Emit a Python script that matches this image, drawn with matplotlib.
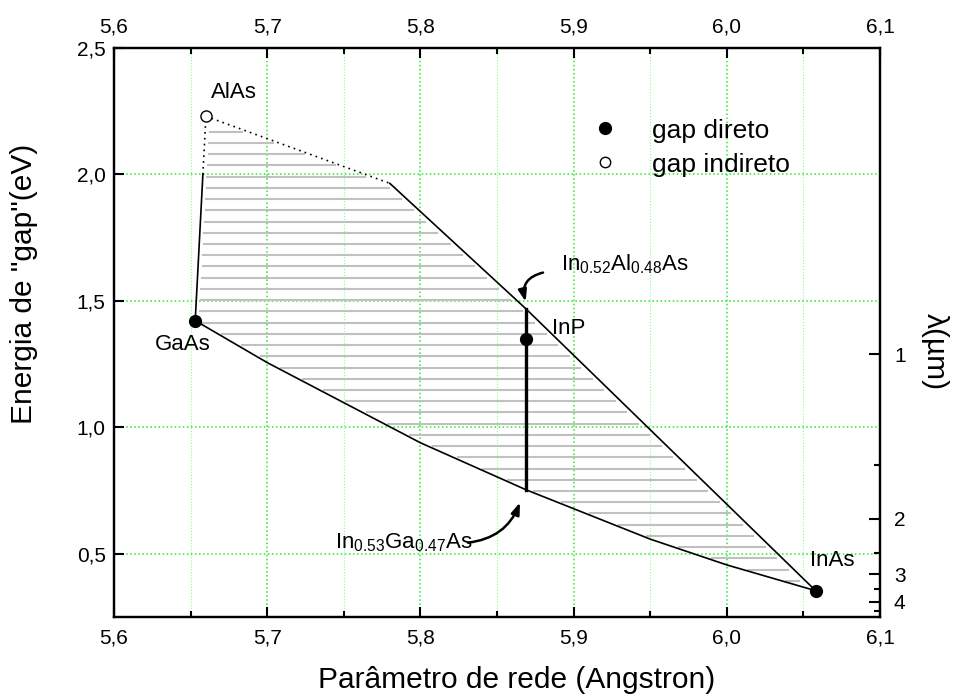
import numpy as np
import matplotlib
matplotlib.use('Agg')
import matplotlib.pyplot as plt
from matplotlib.lines import Line2D
from matplotlib.ticker import MultipleLocator, FuncFormatter, FixedLocator

plt.rcParams['font.family'] = ['Liberation Sans', 'DejaVu Sans']
plt.rcParams['mathtext.fontset'] = 'custom'
plt.rcParams['mathtext.rm'] = 'Liberation Sans'
plt.rcParams['mathtext.default'] = 'regular'

# binary compounds: lattice parameter (Angstron), gap (eV)
direct_names = ['GaAs', 'InP', 'InAs']
direct_a = [5.653, 5.869, 6.058]
direct_e = [1.422, 1.350, 0.354]
indirect_names = ['AlAs']
indirect_a = [5.660]
indirect_e = [2.230]

# GaAs - InAs (InGaAs) boundary, bowed
lower_a = [5.653, 5.700, 5.800, 5.869, 5.950, 6.000, 6.058]
lower_e = [1.422, 1.256, 0.939, 0.753, 0.558, 0.456, 0.354]

# AlAs - InAs (InAlAs) boundary: indirect part then direct part
upper_ind_a = [5.660, 5.780]
upper_ind_e = [2.230, 1.965]
upper_dir_a = [5.780, 5.869, 6.058]
upper_dir_e = [1.965, 1.468, 0.354]

# GaAs - AlAs boundary
left_dir_a = [5.653, 5.658]
left_dir_e = [1.422, 2.000]
left_ind_a = [5.658, 5.660]
left_ind_e = [2.000, 2.230]

# lattice matched to InP
match_a = [5.869, 5.869]
match_e = [0.753, 1.468]

# right axis: wavelength (um) and its position on the energy axis
lam_major = [1, 2, 3, 4]
lam_major_e = [1.290, 0.638, 0.420, 0.311]
lam_minor_e = [0.850, 0.505, 0.360, 0.272]

fig = plt.figure(figsize=(9.55, 6.95), dpi=100)
ax = fig.add_axes([0.1194, 0.1122, 0.8021, 0.8187])

# hatch of the accessible region (horizontal grey lines)
left_chain_e = lower_e[::-1] + left_dir_e[1:] + left_ind_e[1:]
left_chain_a = lower_a[::-1] + left_dir_a[1:] + left_ind_a[1:]
right_chain_e = upper_dir_e[::-1] + upper_ind_e[::-1][1:]
right_chain_a = upper_dir_a[::-1] + upper_ind_a[::-1][1:]
for lev in np.arange(2.169, 0.36, -0.0444):
    xl = np.interp(lev, left_chain_e, left_chain_a) + 0.003
    xr = np.interp(lev, right_chain_e, right_chain_a) - 0.004
    if xr > xl:
        ax.plot([xl, xr], [lev, lev], color='#c0c0c0', lw=1.5, zorder=1)

ax.plot(lower_a, lower_e, color='black', lw=1.2, zorder=3)
ax.plot(upper_dir_a, upper_dir_e, color='black', lw=1.2, zorder=3)
ax.plot(upper_ind_a, upper_ind_e, color='black', lw=1.2, ls=(0, (1, 2.5)), zorder=3)
ax.plot(left_dir_a, left_dir_e, color='black', lw=1.2, zorder=3)
ax.plot(left_ind_a, left_ind_e, color='black', lw=1.2, ls=(0, (1, 2.5)), zorder=3)
ax.plot(match_a, match_e, color='black', lw=2.4, zorder=4)

ax.plot(direct_a, direct_e, ls='none', marker='o', color='black', ms=8.5, zorder=5)
ax.plot(indirect_a, indirect_e, ls='none', marker='o', mfc='white', mec='black',
        mew=1.0, ms=8, zorder=5)

# labels
ax.text(5.645, 1.326, 'GaAs', fontsize=16, ha='center', va='center')
ax.text(5.678, 2.323, 'AlAs', fontsize=16, ha='center', va='center')
ax.text(5.886, 1.389, 'InP', fontsize=16, ha='left', va='center')
ax.text(6.0686, 0.472, 'InAs', fontsize=16, ha='center', va='center')
ax.text(5.892, 1.646, r'In$_{0.52}$Al$_{0.48}$As', fontsize=16, ha='left', va='center')
ax.text(5.744, 0.542, r'In$_{0.53}$Ga$_{0.47}$As', fontsize=16, ha='left', va='center')

arrow = dict(arrowstyle='-|>,head_length=0.7,head_width=0.25', color='black', lw=1.8,
             shrinkA=0, shrinkB=0)
ax.annotate('', xy=(5.8687, 1.497), xytext=(5.880, 1.612),
            arrowprops=dict(arrow, connectionstyle='arc3,rad=0.5'))
ax.annotate('', xy=(5.865, 0.703), xytext=(5.831, 0.544),
            arrowprops=dict(arrow, connectionstyle='arc3,rad=0.3'))

# legend
h1 = Line2D([], [], ls='none', marker='o', color='black', ms=8.5)
h2 = Line2D([], [], ls='none', marker='o', mfc='white', mec='black', mew=1.0, ms=7.5)
ax.legend([h1, h2], ['gap direto', 'gap indireto'], loc='upper left',
          bbox_to_anchor=(0.6237, 0.876), frameon=False, fontsize=19, numpoints=1,
          handlelength=1.0, handletextpad=1.27, labelspacing=0.38,
          borderpad=0, borderaxespad=0)

# axes
ax.set_xlim(5.6, 6.1)
ax.set_ylim(0.25, 2.5)
comma = FuncFormatter(lambda v, p: f'{v:.1f}'.replace('.', ','))
ax.xaxis.set_major_locator(MultipleLocator(0.1))
ax.xaxis.set_minor_locator(MultipleLocator(0.05))
ax.yaxis.set_major_locator(MultipleLocator(0.5))
ax.xaxis.set_major_formatter(comma)
ax.yaxis.set_major_formatter(comma)
ax.tick_params(axis='x', which='both', direction='in', top=True, labeltop=True,
               labelsize=15, pad=8, width=1.5)
ax.tick_params(axis='x', which='major', length=7)
ax.tick_params(axis='x', which='minor', length=4)
ax.tick_params(axis='y', which='major', direction='in', right=False, labelsize=15,
               length=7, width=1.5, pad=6)

ax.grid(True, which='major', color='#22ee22', ls=':', lw=1.1)
ax.grid(True, which='minor', axis='x', color='#88ff88', ls=':', lw=0.8)
ax.set_axisbelow(True)
for s in ax.spines.values():
    s.set_linewidth(1.6)

ax.set_xlabel('Parâmetro de rede (Angstron)', fontsize=21.5)
ax.xaxis.set_label_coords(0.525, -0.111)
ax.xaxis.label.set_va('center')
ax.set_ylabel('Energia de "gap"(eV)', fontsize=21.5)
ax.yaxis.set_label_coords(-0.118, 0.585)
ax.yaxis.label.set_va('center')

ax2 = ax.twinx()
ax2.set_ylim(ax.get_ylim())
ax2.yaxis.set_major_locator(FixedLocator(lam_major_e))
ax2.set_yticklabels([str(v) for v in lam_major])
ax2.yaxis.set_minor_locator(FixedLocator(lam_minor_e))
ax2.tick_params(axis='y', which='both', direction='in', labelsize=15, width=1.5, pad=10)
ax2.tick_params(axis='y', which='major', length=8)
ax2.tick_params(axis='y', which='minor', length=4.5)
for s in ax2.spines.values():
    s.set_linewidth(1.6)
ax2.set_ylabel('λ(µm)', fontsize=21.5, rotation=270)
ax2.yaxis.set_label_coords(1.072, 0.466)
ax2.yaxis.label.set_va('center')
ax2.yaxis.label.set_ha('center')

fig.savefig('out.png', dpi=100)
